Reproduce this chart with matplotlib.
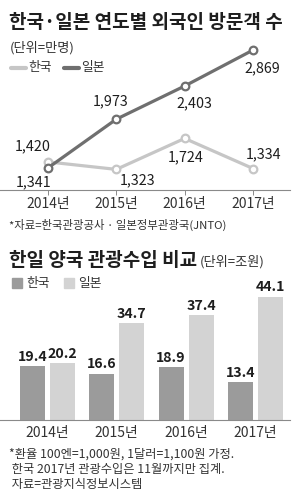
import matplotlib.pyplot as plt
from matplotlib.lines import Line2D
from matplotlib.patches import Rectangle

plt.rcParams['font.family'] = ['Liberation Sans Narrow', 'Noto Sans CJK KR', 'DejaVu Sans']

W, H = 300, 498

years = ['2014년', '2015년', '2016년', '2017년']
visit_korea = [1420, 1323, 1724, 1334]
visit_japan = [1341, 1973, 2403, 2869]
income_korea = [19.4, 16.6, 18.9, 13.4]
income_japan = [20.2, 34.7, 37.4, 44.1]

c_kor_line = '#c6c6c6'
c_jpn_line = '#6f6f6f'
c_kor_bar = '#9b9b9b'
c_jpn_bar = '#d3d3d3'
c_text = '#1e1e1e'


def fx(px):
    return px / W


def fy(py):
    return 1 - py / H


fig = plt.figure(figsize=(W / 100, H / 100), dpi=100)

# titles, legends, notes
fig.text(fx(9), fy(22), '한국·일본 연도별 외국인 방문객 수', fontsize=13.7, fontweight='bold',
         color=c_text, va='center', family=['Noto Sans CJK KR'])
fig.text(fx(10), fy(48), '(단위=만명)', fontsize=9.5, color='#333333', va='center')
fig.add_artist(Line2D([fx(11), fx(26)], [fy(68), fy(68)], lw=3, color=c_kor_line,
                      solid_capstyle='round'))
fig.text(fx(28), fy(68), '한국', fontsize=9.2, color='#333333', va='center')
fig.add_artist(Line2D([fx(64), fx(79)], [fy(68), fy(68)], lw=3, color=c_jpn_line,
                      solid_capstyle='round'))
fig.text(fx(81), fy(68), '일본', fontsize=9.2, color='#333333', va='center')
fig.text(fx(9), fy(225), '*자료=한국관광공사 · 일본정부관광국(JNTO)', fontsize=8.2,
         color='#333333', va='center')

fig.text(fx(9), fy(260), '한일 양국 관광수입 비교', fontsize=13.7, fontweight='bold',
         color=c_text, va='center', family=['Noto Sans CJK KR'])
fig.text(fx(200), fy(262), '(단위=조원)', fontsize=9.5, color='#333333', va='center')
fig.add_artist(Rectangle((fx(12), fy(288)), fx(10), 10 / H, color=c_kor_bar))
fig.text(fx(26), fy(283), '한국', fontsize=9.2, color='#333333', va='center')
fig.add_artist(Rectangle((fx(64), fy(288)), fx(10), 10 / H, color=c_jpn_bar))
fig.text(fx(78), fy(283), '일본', fontsize=9.2, color='#333333', va='center')

notes = ['*환율 100엔=1,000원, 1달러=1,100원 가정.',
         ' 한국 2017년 관광수입은 11월까지만 집계.',
         ' 자료=관광지식정보시스템']
for i, line in enumerate(notes):
    fig.text(fx(9), fy(454 + 15 * i), line, fontsize=8.8, color='#333333', va='center')

# line chart
ax1 = fig.add_axes([0, fy(190), fx(290), 150 / H])
x = list(range(len(years)))
ax1.plot(x, visit_korea, color=c_kor_line, lw=2.3, marker='o', ms=5.5,
         mfc='white', mec=c_kor_line, mew=1.6, clip_on=False, zorder=3)
ax1.plot(x, visit_japan, color=c_jpn_line, lw=2.3, marker='o', ms=5.5,
         mfc='white', mec=c_jpn_line, mew=1.6, clip_on=False, zorder=4)
ax1.set_xlim(-0.70, 3.54)
ax1.set_ylim(1056, 2999)

off_kor = [(-15, 16), (21, -11), (1, -19), (10, 14)]
off_jpn = [(-14, -14), (-6, 18), (10, -17), (9, -18)]
for i in x:
    ax1.annotate(f'{visit_korea[i]:,}', (i, visit_korea[i]),
                 xytext=(off_kor[i][0] * 0.72, off_kor[i][1] * 0.72), textcoords='offset points',
                 ha='center', va='center', fontsize=10.3, color=c_text)
    ax1.annotate(f'{visit_japan[i]:,}', (i, visit_japan[i]),
                 xytext=(off_jpn[i][0] * 0.72, off_jpn[i][1] * 0.72), textcoords='offset points',
                 ha='center', va='center', fontsize=10.3, color=c_text)

for s in ['top', 'right', 'left']:
    ax1.spines[s].set_visible(False)
ax1.spines['bottom'].set_color('#8a8a8a')
ax1.spines['bottom'].set_linewidth(0.8)
ax1.set_yticks([])
ax1.set_xticks(x)
ax1.set_xticklabels(years, fontsize=10, color='#333333')
ax1.tick_params(axis='x', direction='out', length=3.6, width=0.7, color='#8a8a8a', pad=1.5)
ax1.patch.set_alpha(0)

# bar chart
ax2 = fig.add_axes([0, fy(420), fx(290), 130 / H])
bw = 25 / 69.3
off = 15 / 69.3
xk = [i - off for i in x]
xj = [i + off for i in x]
ax2.bar(xk, income_korea, width=bw, color=c_kor_bar)
ax2.bar(xj, income_japan, width=bw, color=c_jpn_bar)
ax2.set_xlim(-0.685, 3.50)
ax2.set_ylim(0, 130 / 2.8)
for i in x:
    ax2.annotate(f'{income_korea[i]:.1f}', (xk[i], income_korea[i]), xytext=(0, 1.5),
                 textcoords='offset points', ha='center', va='bottom', fontsize=10.2,
                 fontweight='bold', color=c_text, annotation_clip=False)
    ax2.annotate(f'{income_japan[i]:.1f}', (xj[i], income_japan[i]), xytext=(0, 1.5),
                 textcoords='offset points', ha='center', va='bottom', fontsize=10.2,
                 fontweight='bold', color=c_text, annotation_clip=False)

for s in ['top', 'right', 'left']:
    ax2.spines[s].set_visible(False)
ax2.spines['bottom'].set_color('#8a8a8a')
ax2.spines['bottom'].set_linewidth(0.8)
ax2.set_yticks([])
ax2.set_xticks(x)
ax2.set_xticklabels(years, fontsize=10, color='#333333')
ax2.tick_params(axis='x', length=0, pad=4)
ax2.patch.set_alpha(0)

fig.savefig('out.png', dpi=100)
